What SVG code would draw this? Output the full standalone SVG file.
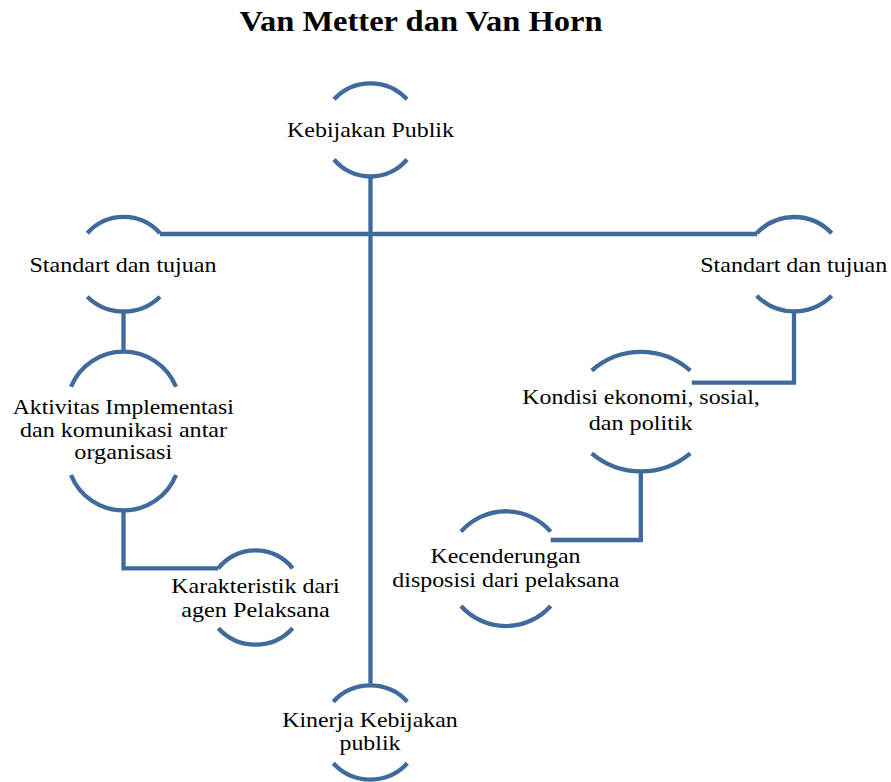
<svg xmlns="http://www.w3.org/2000/svg" width="891" height="782" viewBox="0 0 891 782">
<style>
.arc{fill:none;stroke:#416A9C;stroke-width:4.3}
.con{fill:none;stroke:#416A9C;stroke-width:4.3;stroke-linejoin:miter}
text{font-family:'Liberation Serif','Times New Roman',Times,serif;fill:#000;text-anchor:middle}
.t{font-size:21.5px;font-weight:normal}
.title{font-size:29px;font-weight:bold}
</style>
<rect width="891" height="782" fill="#fff"/>
<text class="title" x="421" y="31" textLength="363" lengthAdjust="spacingAndGlyphs">Van Metter dan Van Horn</text>
<g id="connectors">
<path class="con" d="M370.5 176.5 V683.5"/>
<path class="con" d="M160 234 H757"/>
<path class="con" d="M123.5 311 V352"/>
<path class="con" d="M123.5 510 V568.3 H218.3"/>
<path class="con" d="M794 311.3 V382.7 H691.7"/>
<path class="con" d="M640.8 471.3 V540 H550.7"/>
</g>
<g id="kebijakan-publik">
<path class="arc" d="M334 99.3 A49.6 49.6 0 0 1 407 99.3"/>
<path class="arc" d="M334 159.5 A47.7 47.7 0 0 0 407 159.5"/>
<text class="t" x="370.5" y="137" textLength="167" lengthAdjust="spacingAndGlyphs">Kebijakan Publik</text>
</g>
<g id="standart-kiri">
<path class="arc" d="M87.3 233.3 A48.6 48.6 0 0 1 160 233.3"/>
<path class="arc" d="M87.3 296.7 A52 52 0 0 0 160 296.7"/>
<text class="t" x="123" y="272" textLength="187" lengthAdjust="spacingAndGlyphs">Standart dan tujuan</text>
</g>
<g id="aktivitas">
<path class="arc" d="M71 386.7 A56.8 56.8 0 0 1 176 386.7"/>
<path class="arc" d="M71 475 A56.6 56.6 0 0 0 176 475"/>
<text class="t" x="123.3" y="414" textLength="221" lengthAdjust="spacingAndGlyphs">Aktivitas Implementasi</text>
<text class="t" x="123.5" y="436.5" textLength="207" lengthAdjust="spacingAndGlyphs">dan komunikasi antar</text>
<text class="t" x="123.3" y="459" textLength="98" lengthAdjust="spacingAndGlyphs">organisasi</text>
</g>
<g id="karakteristik">
<path class="arc" d="M218.3 568.3 A47.4 47.4 0 0 1 292.7 568.3"/>
<path class="arc" d="M218.3 628.3 A50.4 50.4 0 0 0 292.7 628.3"/>
<text class="t" x="255.5" y="592.7" textLength="168.5" lengthAdjust="spacingAndGlyphs">Karakteristik dari</text>
<text class="t" x="255.5" y="616.7" textLength="148.5" lengthAdjust="spacingAndGlyphs">agen Pelaksana</text>
</g>
<g id="kinerja">
<path class="arc" d="M333.3 701.7 A50.3 50.3 0 0 1 407.3 701.7"/>
<path class="arc" d="M333.3 763.3 A50.3 50.3 0 0 0 407.3 763.3"/>
<text class="t" x="370" y="726.7" textLength="175.5" lengthAdjust="spacingAndGlyphs">Kinerja Kebijakan</text>
<text class="t" x="370" y="750" textLength="61" lengthAdjust="spacingAndGlyphs">publik</text>
</g>
<g id="standart-kanan">
<path class="arc" d="M756.7 233.3 A51.3 51.3 0 0 1 831.7 233.3"/>
<path class="arc" d="M756.7 295.7 A52.9 52.9 0 0 0 831.7 295.7"/>
<text class="t" x="793.7" y="272" textLength="187" lengthAdjust="spacingAndGlyphs">Standart dan tujuan</text>
</g>
<g id="kondisi">
<path class="arc" d="M591.7 370.7 A74.1 74.1 0 0 1 690.3 370.7"/>
<path class="arc" d="M591.7 453.3 A76.3 76.3 0 0 0 690.3 453.3"/>
<text class="t" x="641" y="404" textLength="237.5" lengthAdjust="spacingAndGlyphs">Kondisi ekonomi, sosial,</text>
<text class="t" x="640.7" y="430" textLength="104" lengthAdjust="spacingAndGlyphs">dan politik</text>
</g>
<g id="kecenderungan">
<path class="arc" d="M461 531.7 A59.4 59.4 0 0 1 550.7 531.7"/>
<path class="arc" d="M461 606 A60.2 60.2 0 0 0 550.7 606"/>
<text class="t" x="505.5" y="562.7" textLength="150" lengthAdjust="spacingAndGlyphs">Kecenderungan</text>
<text class="t" x="505.8" y="587.3" textLength="227" lengthAdjust="spacingAndGlyphs">disposisi dari pelaksana</text>
</g>
</svg>
